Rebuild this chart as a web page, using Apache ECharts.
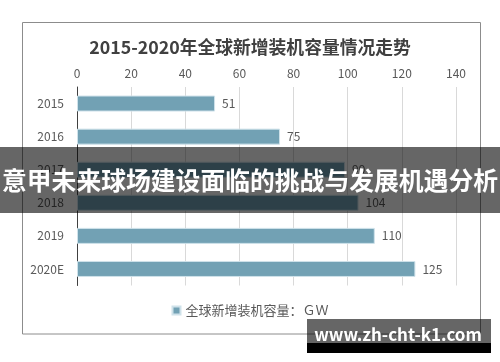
<!DOCTYPE html>
<html><head><meta charset="utf-8">
<script src="https://cdn.jsdelivr.net/npm/echarts@6/dist/echarts.min.js"></script>
<style>html,body{margin:0;padding:0;background:#fff}#c{width:500px;height:362px}</style>
</head><body><div id="c"></div>
<script>
const titleText = '2015-2020年全球新增装机容量情况走势';
const categories = ['2015', '2016', '2017', '2018', '2019', '2020E'];
const values = [51, 75, 99, 104, 110, 125];
const seriesName = '全球新增装机容量：ＧＷ';
const bannerText = '意甲未来球场建设面临的挑战与发展机遇分析';
const watermarkText = 'www.zh-cht-k1.com';

const FONT = '"Noto Sans CJK SC", "Liberation Sans", sans-serif';
const chart = echarts.init(document.getElementById('c'), null, {renderer: 'canvas'});
chart.setOption({
  animation: false,
  backgroundColor: '#fff',
  textStyle: {fontFamily: FONT},
  title: {
    text: titleText, left: 'center', top: 33,
    textStyle: {fontSize: 17.8, fontWeight: 'bold', color: '#404040', fontFamily: FONT}
  },
  legend: {
    bottom: 40, left: 'center', icon: 'rect', itemWidth: 8, itemHeight: 8, itemGap: 5,
    textStyle: {fontSize: 13, color: '#595959', fontFamily: FONT},
    data: [seriesName]
  },
  grid: {left: 77, right: 44, top: 87, bottom: 76.5, containLabel: false},
  xAxis: {
    type: 'value', position: 'top', min: 0, max: 140, interval: 20,
    axisLine: {show: false}, axisTick: {show: false},
    axisLabel: {color: '#595959', fontSize: 12, margin: 8, fontFamily: FONT},
    splitLine: {lineStyle: {color: '#d9d9d9', width: 1}}
  },
  yAxis: {
    type: 'category', inverse: true, data: categories,
    axisLine: {lineStyle: {color: '#404040', width: 1}}, axisTick: {show: false},
    axisLabel: {color: '#595959', fontSize: 12, margin: 13, fontFamily: FONT}
  },
  series: [{
    name: seriesName, type: 'bar', data: values, barWidth: 16,
    itemStyle: {color: '#72a1b4', borderColor: '#cfe2ea', borderWidth: 1},
    label: {show: true, position: 'right', distance: 7, color: '#595959', fontSize: 12, fontFamily: FONT}
  }],
  graphic: [
    {type: 'rect', z: -10, shape: {x: 22.5, y: 22.5, width: 458, height: 311.5},
     style: {fill: 'none', stroke: '#8c8c8c', lineWidth: 1}},
    {type: 'rect', z: 100, shape: {x: 0, y: 147, width: 500, height: 66},
     style: {fill: 'rgba(0,0,0,0.6)'}},
    {type: 'text', z: 101, x: 250, y: 181,
     style: {text: bannerText, fill: '#fff', font: 'bold 24.8px ' + FONT, textAlign: 'center', textVerticalAlign: 'middle'}},
    {type: 'rect', z: 100, shape: {x: 307, y: 319, width: 184, height: 24},
     style: {fill: 'rgba(0,0,0,0.6)'}},
    {type: 'rect', z: 100, shape: {x: 307, y: 343, width: 184, height: 10},
     style: {fill: '#000'}},
    {type: 'text', z: 101, x: 398, y: 335,
     style: {text: watermarkText, fill: '#fff', font: 'bold 17px ' + FONT, textAlign: 'center', textVerticalAlign: 'middle'}}
  ]
});
</script></body></html>
